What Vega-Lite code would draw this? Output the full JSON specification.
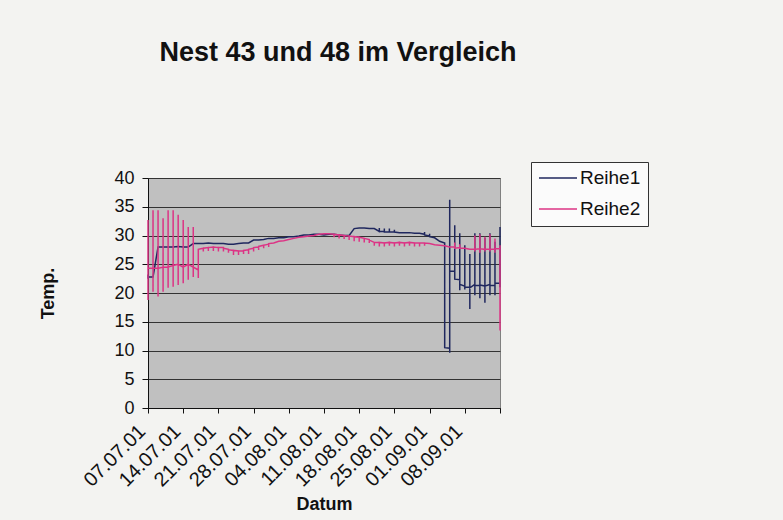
{
  "$schema": "https://vega.github.io/schema/vega-lite/v6.json",
  "width": 352,
  "height": 230,
  "autosize": {"type": "none"},
  "padding": {"left": 148, "top": 178, "right": 283, "bottom": 112},
  "background": "#f3f3f1",
  "title": {"text": "Nest 43 und 48 im Vergleich", "font": "Liberation Sans", "fontSize": 27, "fontWeight": "bold", "color": "#111111", "anchor": "middle", "dx": 14, "offset": 95},
  "data": {"values": [
    {"t":"2001-07-07","s":"Reihe1","v":22.5,"k":1},
    {"t":"2001-07-07","s":"Reihe1","v":23.2,"k":2},
    {"t":"2001-07-07","s":"Reihe1","v":22.8,"k":3},
    {"t":"2001-07-08","s":"Reihe1","v":22.8,"k":4},
    {"t":"2001-07-09","s":"Reihe1","v":28.0,"k":5},
    {"t":"2001-07-10","s":"Reihe1","v":28.0,"k":6},
    {"t":"2001-07-11","s":"Reihe1","v":28.0,"k":7},
    {"t":"2001-07-12","s":"Reihe1","v":28.0,"k":8},
    {"t":"2001-07-13","s":"Reihe1","v":28.1,"k":9},
    {"t":"2001-07-14","s":"Reihe1","v":28.0,"k":10},
    {"t":"2001-07-15","s":"Reihe1","v":28.0,"k":11},
    {"t":"2001-07-16","s":"Reihe1","v":28.6,"k":12},
    {"t":"2001-07-17","s":"Reihe1","v":28.6,"k":13},
    {"t":"2001-07-18","s":"Reihe1","v":28.6,"k":14},
    {"t":"2001-07-19","s":"Reihe1","v":28.7,"k":15},
    {"t":"2001-07-20","s":"Reihe1","v":28.6,"k":16},
    {"t":"2001-07-21","s":"Reihe1","v":28.6,"k":17},
    {"t":"2001-07-22","s":"Reihe1","v":28.6,"k":18},
    {"t":"2001-07-23","s":"Reihe1","v":28.5,"k":19},
    {"t":"2001-07-24","s":"Reihe1","v":28.5,"k":20},
    {"t":"2001-07-25","s":"Reihe1","v":28.6,"k":21},
    {"t":"2001-07-26","s":"Reihe1","v":28.7,"k":22},
    {"t":"2001-07-27","s":"Reihe1","v":28.7,"k":23},
    {"t":"2001-07-28","s":"Reihe1","v":29.2,"k":24},
    {"t":"2001-07-29","s":"Reihe1","v":29.2,"k":25},
    {"t":"2001-07-30","s":"Reihe1","v":29.3,"k":26},
    {"t":"2001-07-31","s":"Reihe1","v":29.5,"k":27},
    {"t":"2001-08-01","s":"Reihe1","v":29.5,"k":28},
    {"t":"2001-08-02","s":"Reihe1","v":29.6,"k":29},
    {"t":"2001-08-03","s":"Reihe1","v":29.6,"k":30},
    {"t":"2001-08-04","s":"Reihe1","v":29.8,"k":31},
    {"t":"2001-08-05","s":"Reihe1","v":29.8,"k":32},
    {"t":"2001-08-06","s":"Reihe1","v":29.9,"k":33},
    {"t":"2001-08-07","s":"Reihe1","v":30.1,"k":34},
    {"t":"2001-08-08","s":"Reihe1","v":30.1,"k":35},
    {"t":"2001-08-09","s":"Reihe1","v":30.2,"k":36},
    {"t":"2001-08-10","s":"Reihe1","v":30.2,"k":37},
    {"t":"2001-08-11","s":"Reihe1","v":30.1,"k":38},
    {"t":"2001-08-12","s":"Reihe1","v":30.2,"k":39},
    {"t":"2001-08-13","s":"Reihe1","v":30.2,"k":40},
    {"t":"2001-08-14","s":"Reihe1","v":30.1,"k":41},
    {"t":"2001-08-15","s":"Reihe1","v":30.0,"k":42},
    {"t":"2001-08-16","s":"Reihe1","v":30.0,"k":43},
    {"t":"2001-08-17","s":"Reihe1","v":31.2,"k":44},
    {"t":"2001-08-18","s":"Reihe1","v":31.3,"k":45},
    {"t":"2001-08-19","s":"Reihe1","v":31.3,"k":46},
    {"t":"2001-08-20","s":"Reihe1","v":31.2,"k":47},
    {"t":"2001-08-21","s":"Reihe1","v":31.2,"k":48},
    {"t":"2001-08-22","s":"Reihe1","v":30.7,"k":49},
    {"t":"2001-08-22","s":"Reihe1","v":31.3,"k":50},
    {"t":"2001-08-22","s":"Reihe1","v":30.7,"k":51},
    {"t":"2001-08-23","s":"Reihe1","v":30.7,"k":52},
    {"t":"2001-08-23","s":"Reihe1","v":31.2,"k":53},
    {"t":"2001-08-23","s":"Reihe1","v":30.6,"k":54},
    {"t":"2001-08-24","s":"Reihe1","v":30.6,"k":55},
    {"t":"2001-08-24","s":"Reihe1","v":31.2,"k":56},
    {"t":"2001-08-24","s":"Reihe1","v":30.6,"k":57},
    {"t":"2001-08-25","s":"Reihe1","v":30.6,"k":58},
    {"t":"2001-08-25","s":"Reihe1","v":31.0,"k":59},
    {"t":"2001-08-25","s":"Reihe1","v":30.6,"k":60},
    {"t":"2001-08-26","s":"Reihe1","v":30.5,"k":61},
    {"t":"2001-08-27","s":"Reihe1","v":30.5,"k":62},
    {"t":"2001-08-28","s":"Reihe1","v":30.5,"k":63},
    {"t":"2001-08-29","s":"Reihe1","v":30.4,"k":64},
    {"t":"2001-08-30","s":"Reihe1","v":30.4,"k":65},
    {"t":"2001-08-31","s":"Reihe1","v":30.2,"k":66},
    {"t":"2001-08-31","s":"Reihe1","v":30.6,"k":67},
    {"t":"2001-08-31","s":"Reihe1","v":30.1,"k":68},
    {"t":"2001-09-01","s":"Reihe1","v":29.9,"k":69},
    {"t":"2001-09-01","s":"Reihe1","v":30.3,"k":70},
    {"t":"2001-09-01","s":"Reihe1","v":29.8,"k":71},
    {"t":"2001-09-02","s":"Reihe1","v":29.6,"k":72},
    {"t":"2001-09-03","s":"Reihe1","v":29.0,"k":73},
    {"t":"2001-09-04","s":"Reihe1","v":28.7,"k":74},
    {"t":"2001-09-04","s":"Reihe1","v":10.5,"k":75},
    {"t":"2001-09-05","s":"Reihe1","v":10.4,"k":76},
    {"t":"2001-09-05","s":"Reihe1","v":9.6,"k":77},
    {"t":"2001-09-05","s":"Reihe1","v":36.2,"k":78},
    {"t":"2001-09-05","s":"Reihe1","v":23.8,"k":79},
    {"t":"2001-09-06","s":"Reihe1","v":23.8,"k":80},
    {"t":"2001-09-06","s":"Reihe1","v":31.8,"k":81},
    {"t":"2001-09-06","s":"Reihe1","v":22.6,"k":82},
    {"t":"2001-09-06","s":"Reihe1","v":22.4,"k":83},
    {"t":"2001-09-07","s":"Reihe1","v":22.3,"k":84},
    {"t":"2001-09-07","s":"Reihe1","v":30.4,"k":85},
    {"t":"2001-09-07","s":"Reihe1","v":20.5,"k":86},
    {"t":"2001-09-07","s":"Reihe1","v":21.5,"k":87},
    {"t":"2001-09-08","s":"Reihe1","v":21.2,"k":88},
    {"t":"2001-09-08","s":"Reihe1","v":28.3,"k":89},
    {"t":"2001-09-08","s":"Reihe1","v":20.6,"k":90},
    {"t":"2001-09-08","s":"Reihe1","v":21.0,"k":91},
    {"t":"2001-09-09","s":"Reihe1","v":21.0,"k":92},
    {"t":"2001-09-09","s":"Reihe1","v":17.2,"k":93},
    {"t":"2001-09-09","s":"Reihe1","v":26.8,"k":94},
    {"t":"2001-09-09","s":"Reihe1","v":20.9,"k":95},
    {"t":"2001-09-10","s":"Reihe1","v":21.5,"k":96},
    {"t":"2001-09-10","s":"Reihe1","v":30.4,"k":97},
    {"t":"2001-09-10","s":"Reihe1","v":19.6,"k":98},
    {"t":"2001-09-10","s":"Reihe1","v":21.3,"k":99},
    {"t":"2001-09-11","s":"Reihe1","v":21.3,"k":100},
    {"t":"2001-09-11","s":"Reihe1","v":30.4,"k":101},
    {"t":"2001-09-11","s":"Reihe1","v":19.1,"k":102},
    {"t":"2001-09-11","s":"Reihe1","v":21.4,"k":103},
    {"t":"2001-09-12","s":"Reihe1","v":21.2,"k":104},
    {"t":"2001-09-12","s":"Reihe1","v":29.6,"k":105},
    {"t":"2001-09-12","s":"Reihe1","v":18.3,"k":106},
    {"t":"2001-09-12","s":"Reihe1","v":21.2,"k":107},
    {"t":"2001-09-13","s":"Reihe1","v":21.5,"k":108},
    {"t":"2001-09-13","s":"Reihe1","v":30.4,"k":109},
    {"t":"2001-09-13","s":"Reihe1","v":19.6,"k":110},
    {"t":"2001-09-13","s":"Reihe1","v":21.3,"k":111},
    {"t":"2001-09-14","s":"Reihe1","v":21.3,"k":112},
    {"t":"2001-09-14","s":"Reihe1","v":28.9,"k":113},
    {"t":"2001-09-14","s":"Reihe1","v":19.6,"k":114},
    {"t":"2001-09-14","s":"Reihe1","v":21.7,"k":115},
    {"t":"2001-09-15","s":"Reihe1","v":21.7,"k":116},
    {"t":"2001-09-15","s":"Reihe1","v":31.5,"k":117},
    {"t":"2001-09-15","s":"Reihe1","v":21.0,"k":118},
    {"t":"2001-09-15","s":"Reihe1","v":21.5,"k":119},

    {"t":"2001-07-07","s":"Reihe2","v":24.3,"k":201},
    {"t":"2001-07-07","s":"Reihe2","v":32.7,"k":202},
    {"t":"2001-07-07","s":"Reihe2","v":18.8,"k":203},
    {"t":"2001-07-07","s":"Reihe2","v":24.3,"k":204},
    {"t":"2001-07-08","s":"Reihe2","v":24.3,"k":205},
    {"t":"2001-07-08","s":"Reihe2","v":34.4,"k":206},
    {"t":"2001-07-08","s":"Reihe2","v":20.2,"k":207},
    {"t":"2001-07-08","s":"Reihe2","v":24.3,"k":208},
    {"t":"2001-07-09","s":"Reihe2","v":24.3,"k":209},
    {"t":"2001-07-09","s":"Reihe2","v":34.4,"k":210},
    {"t":"2001-07-09","s":"Reihe2","v":19.4,"k":211},
    {"t":"2001-07-09","s":"Reihe2","v":24.3,"k":212},
    {"t":"2001-07-10","s":"Reihe2","v":24.5,"k":213},
    {"t":"2001-07-10","s":"Reihe2","v":33.0,"k":214},
    {"t":"2001-07-10","s":"Reihe2","v":20.2,"k":215},
    {"t":"2001-07-10","s":"Reihe2","v":24.5,"k":216},
    {"t":"2001-07-11","s":"Reihe2","v":24.5,"k":217},
    {"t":"2001-07-11","s":"Reihe2","v":34.4,"k":218},
    {"t":"2001-07-11","s":"Reihe2","v":20.9,"k":219},
    {"t":"2001-07-11","s":"Reihe2","v":24.5,"k":220},
    {"t":"2001-07-12","s":"Reihe2","v":24.8,"k":221},
    {"t":"2001-07-12","s":"Reihe2","v":34.4,"k":222},
    {"t":"2001-07-12","s":"Reihe2","v":21.1,"k":223},
    {"t":"2001-07-12","s":"Reihe2","v":24.8,"k":224},
    {"t":"2001-07-13","s":"Reihe2","v":25.0,"k":225},
    {"t":"2001-07-13","s":"Reihe2","v":33.6,"k":226},
    {"t":"2001-07-13","s":"Reihe2","v":21.4,"k":227},
    {"t":"2001-07-13","s":"Reihe2","v":25.0,"k":228},
    {"t":"2001-07-14","s":"Reihe2","v":24.5,"k":229},
    {"t":"2001-07-14","s":"Reihe2","v":32.7,"k":230},
    {"t":"2001-07-14","s":"Reihe2","v":21.7,"k":231},
    {"t":"2001-07-14","s":"Reihe2","v":24.5,"k":232},
    {"t":"2001-07-15","s":"Reihe2","v":25.0,"k":233},
    {"t":"2001-07-15","s":"Reihe2","v":31.5,"k":234},
    {"t":"2001-07-15","s":"Reihe2","v":22.3,"k":235},
    {"t":"2001-07-15","s":"Reihe2","v":25.0,"k":236},
    {"t":"2001-07-16","s":"Reihe2","v":24.5,"k":237},
    {"t":"2001-07-16","s":"Reihe2","v":31.5,"k":238},
    {"t":"2001-07-16","s":"Reihe2","v":22.8,"k":239},
    {"t":"2001-07-16","s":"Reihe2","v":24.5,"k":240},
    {"t":"2001-07-17","s":"Reihe2","v":24.0,"k":241},
    {"t":"2001-07-17","s":"Reihe2","v":22.6,"k":242},
    {"t":"2001-07-17","s":"Reihe2","v":27.6,"k":243},
    {"t":"2001-07-18","s":"Reihe2","v":27.8,"k":244},
    {"t":"2001-07-18","s":"Reihe2","v":27.2,"k":245},
    {"t":"2001-07-18","s":"Reihe2","v":27.8,"k":246},
    {"t":"2001-07-19","s":"Reihe2","v":27.9,"k":247},
    {"t":"2001-07-19","s":"Reihe2","v":27.3,"k":248},
    {"t":"2001-07-19","s":"Reihe2","v":27.9,"k":249},
    {"t":"2001-07-20","s":"Reihe2","v":28.0,"k":250},
    {"t":"2001-07-20","s":"Reihe2","v":27.3,"k":251},
    {"t":"2001-07-20","s":"Reihe2","v":28.0,"k":252},
    {"t":"2001-07-21","s":"Reihe2","v":27.9,"k":253},
    {"t":"2001-07-21","s":"Reihe2","v":27.2,"k":254},
    {"t":"2001-07-21","s":"Reihe2","v":27.9,"k":255},
    {"t":"2001-07-22","s":"Reihe2","v":27.9,"k":256},
    {"t":"2001-07-22","s":"Reihe2","v":27.2,"k":257},
    {"t":"2001-07-22","s":"Reihe2","v":27.8,"k":258},
    {"t":"2001-07-23","s":"Reihe2","v":27.6,"k":259},
    {"t":"2001-07-23","s":"Reihe2","v":27.0,"k":260},
    {"t":"2001-07-23","s":"Reihe2","v":27.5,"k":261},
    {"t":"2001-07-24","s":"Reihe2","v":27.4,"k":262},
    {"t":"2001-07-24","s":"Reihe2","v":26.6,"k":263},
    {"t":"2001-07-24","s":"Reihe2","v":27.4,"k":264},
    {"t":"2001-07-25","s":"Reihe2","v":27.3,"k":265},
    {"t":"2001-07-25","s":"Reihe2","v":26.6,"k":266},
    {"t":"2001-07-25","s":"Reihe2","v":27.3,"k":267},
    {"t":"2001-07-26","s":"Reihe2","v":27.3,"k":268},
    {"t":"2001-07-26","s":"Reihe2","v":26.8,"k":269},
    {"t":"2001-07-26","s":"Reihe2","v":27.4,"k":270},
    {"t":"2001-07-27","s":"Reihe2","v":27.5,"k":271},
    {"t":"2001-07-27","s":"Reihe2","v":26.8,"k":272},
    {"t":"2001-07-27","s":"Reihe2","v":27.6,"k":273},
    {"t":"2001-07-28","s":"Reihe2","v":27.8,"k":274},
    {"t":"2001-07-28","s":"Reihe2","v":27.2,"k":275},
    {"t":"2001-07-28","s":"Reihe2","v":27.9,"k":276},
    {"t":"2001-07-29","s":"Reihe2","v":28.0,"k":277},
    {"t":"2001-07-29","s":"Reihe2","v":27.5,"k":278},
    {"t":"2001-07-29","s":"Reihe2","v":28.1,"k":279},
    {"t":"2001-07-30","s":"Reihe2","v":28.3,"k":280},
    {"t":"2001-07-30","s":"Reihe2","v":27.8,"k":281},
    {"t":"2001-07-30","s":"Reihe2","v":28.3,"k":282},
    {"t":"2001-07-31","s":"Reihe2","v":28.5,"k":283},
    {"t":"2001-07-31","s":"Reihe2","v":28.0,"k":284},
    {"t":"2001-07-31","s":"Reihe2","v":28.6,"k":285},
    {"t":"2001-08-01","s":"Reihe2","v":28.7,"k":286},
    {"t":"2001-08-02","s":"Reihe2","v":29.0,"k":287},
    {"t":"2001-08-03","s":"Reihe2","v":29.1,"k":288},
    {"t":"2001-08-04","s":"Reihe2","v":29.3,"k":289},
    {"t":"2001-08-05","s":"Reihe2","v":29.5,"k":290},
    {"t":"2001-08-06","s":"Reihe2","v":29.7,"k":291},
    {"t":"2001-08-07","s":"Reihe2","v":29.8,"k":292},
    {"t":"2001-08-08","s":"Reihe2","v":29.9,"k":293},
    {"t":"2001-08-09","s":"Reihe2","v":30.0,"k":294},
    {"t":"2001-08-10","s":"Reihe2","v":30.2,"k":295},
    {"t":"2001-08-11","s":"Reihe2","v":30.3,"k":296},
    {"t":"2001-08-12","s":"Reihe2","v":30.3,"k":297},
    {"t":"2001-08-13","s":"Reihe2","v":30.2,"k":298},
    {"t":"2001-08-13","s":"Reihe2","v":29.7,"k":299},
    {"t":"2001-08-13","s":"Reihe2","v":30.2,"k":300},
    {"t":"2001-08-14","s":"Reihe2","v":30.1,"k":301},
    {"t":"2001-08-14","s":"Reihe2","v":29.5,"k":302},
    {"t":"2001-08-14","s":"Reihe2","v":30.1,"k":303},
    {"t":"2001-08-15","s":"Reihe2","v":30.0,"k":304},
    {"t":"2001-08-15","s":"Reihe2","v":29.4,"k":305},
    {"t":"2001-08-15","s":"Reihe2","v":30.0,"k":306},
    {"t":"2001-08-16","s":"Reihe2","v":29.9,"k":307},
    {"t":"2001-08-16","s":"Reihe2","v":29.2,"k":308},
    {"t":"2001-08-16","s":"Reihe2","v":29.9,"k":309},
    {"t":"2001-08-17","s":"Reihe2","v":29.8,"k":310},
    {"t":"2001-08-17","s":"Reihe2","v":29.0,"k":311},
    {"t":"2001-08-17","s":"Reihe2","v":29.8,"k":312},
    {"t":"2001-08-18","s":"Reihe2","v":29.7,"k":313},
    {"t":"2001-08-18","s":"Reihe2","v":28.9,"k":314},
    {"t":"2001-08-18","s":"Reihe2","v":29.7,"k":315},
    {"t":"2001-08-19","s":"Reihe2","v":29.5,"k":316},
    {"t":"2001-08-19","s":"Reihe2","v":28.8,"k":317},
    {"t":"2001-08-19","s":"Reihe2","v":29.5,"k":318},
    {"t":"2001-08-20","s":"Reihe2","v":29.3,"k":319},
    {"t":"2001-08-20","s":"Reihe2","v":28.7,"k":320},
    {"t":"2001-08-20","s":"Reihe2","v":29.2,"k":321},
    {"t":"2001-08-21","s":"Reihe2","v":28.8,"k":322},
    {"t":"2001-08-21","s":"Reihe2","v":28.2,"k":323},
    {"t":"2001-08-21","s":"Reihe2","v":28.8,"k":324},
    {"t":"2001-08-22","s":"Reihe2","v":28.8,"k":325},
    {"t":"2001-08-22","s":"Reihe2","v":28.1,"k":326},
    {"t":"2001-08-22","s":"Reihe2","v":28.8,"k":327},
    {"t":"2001-08-23","s":"Reihe2","v":28.7,"k":328},
    {"t":"2001-08-23","s":"Reihe2","v":28.1,"k":329},
    {"t":"2001-08-23","s":"Reihe2","v":28.7,"k":330},
    {"t":"2001-08-24","s":"Reihe2","v":28.8,"k":331},
    {"t":"2001-08-24","s":"Reihe2","v":28.2,"k":332},
    {"t":"2001-08-24","s":"Reihe2","v":28.8,"k":333},
    {"t":"2001-08-25","s":"Reihe2","v":28.7,"k":334},
    {"t":"2001-08-25","s":"Reihe2","v":28.1,"k":335},
    {"t":"2001-08-25","s":"Reihe2","v":28.7,"k":336},
    {"t":"2001-08-26","s":"Reihe2","v":28.8,"k":337},
    {"t":"2001-08-26","s":"Reihe2","v":28.2,"k":338},
    {"t":"2001-08-26","s":"Reihe2","v":28.8,"k":339},
    {"t":"2001-08-27","s":"Reihe2","v":28.7,"k":340},
    {"t":"2001-08-27","s":"Reihe2","v":28.1,"k":341},
    {"t":"2001-08-27","s":"Reihe2","v":28.7,"k":342},
    {"t":"2001-08-28","s":"Reihe2","v":28.8,"k":343},
    {"t":"2001-08-28","s":"Reihe2","v":28.2,"k":344},
    {"t":"2001-08-28","s":"Reihe2","v":28.8,"k":345},
    {"t":"2001-08-29","s":"Reihe2","v":28.7,"k":346},
    {"t":"2001-08-29","s":"Reihe2","v":28.1,"k":347},
    {"t":"2001-08-29","s":"Reihe2","v":28.7,"k":348},
    {"t":"2001-08-30","s":"Reihe2","v":28.7,"k":349},
    {"t":"2001-08-30","s":"Reihe2","v":28.1,"k":350},
    {"t":"2001-08-30","s":"Reihe2","v":28.7,"k":351},
    {"t":"2001-08-31","s":"Reihe2","v":28.7,"k":352},
    {"t":"2001-08-31","s":"Reihe2","v":28.2,"k":353},
    {"t":"2001-08-31","s":"Reihe2","v":28.7,"k":354},
    {"t":"2001-09-01","s":"Reihe2","v":28.6,"k":355},
    {"t":"2001-09-02","s":"Reihe2","v":28.4,"k":356},
    {"t":"2001-09-03","s":"Reihe2","v":28.3,"k":357},
    {"t":"2001-09-04","s":"Reihe2","v":28.2,"k":358},
    {"t":"2001-09-05","s":"Reihe2","v":28.0,"k":359},
    {"t":"2001-09-06","s":"Reihe2","v":28.0,"k":360},
    {"t":"2001-09-06","s":"Reihe2","v":28.8,"k":361},
    {"t":"2001-09-06","s":"Reihe2","v":27.8,"k":362},
    {"t":"2001-09-07","s":"Reihe2","v":27.9,"k":363},
    {"t":"2001-09-07","s":"Reihe2","v":28.5,"k":364},
    {"t":"2001-09-07","s":"Reihe2","v":27.8,"k":365},
    {"t":"2001-09-08","s":"Reihe2","v":27.8,"k":366},
    {"t":"2001-09-09","s":"Reihe2","v":27.6,"k":367},
    {"t":"2001-09-10","s":"Reihe2","v":27.6,"k":368},
    {"t":"2001-09-10","s":"Reihe2","v":30.0,"k":369},
    {"t":"2001-09-10","s":"Reihe2","v":27.2,"k":370},
    {"t":"2001-09-10","s":"Reihe2","v":27.6,"k":371},
    {"t":"2001-09-11","s":"Reihe2","v":27.7,"k":372},
    {"t":"2001-09-11","s":"Reihe2","v":30.2,"k":373},
    {"t":"2001-09-11","s":"Reihe2","v":27.0,"k":374},
    {"t":"2001-09-11","s":"Reihe2","v":27.7,"k":375},
    {"t":"2001-09-12","s":"Reihe2","v":27.6,"k":376},
    {"t":"2001-09-12","s":"Reihe2","v":29.8,"k":377},
    {"t":"2001-09-12","s":"Reihe2","v":27.2,"k":378},
    {"t":"2001-09-12","s":"Reihe2","v":27.6,"k":379},
    {"t":"2001-09-13","s":"Reihe2","v":27.6,"k":380},
    {"t":"2001-09-13","s":"Reihe2","v":30.2,"k":381},
    {"t":"2001-09-13","s":"Reihe2","v":27.2,"k":382},
    {"t":"2001-09-13","s":"Reihe2","v":27.6,"k":383},
    {"t":"2001-09-14","s":"Reihe2","v":27.6,"k":384},
    {"t":"2001-09-14","s":"Reihe2","v":29.5,"k":385},
    {"t":"2001-09-14","s":"Reihe2","v":27.0,"k":386},
    {"t":"2001-09-14","s":"Reihe2","v":27.7,"k":387},
    {"t":"2001-09-15","s":"Reihe2","v":27.7,"k":388},
    {"t":"2001-09-15","s":"Reihe2","v":28.3,"k":389},
    {"t":"2001-09-15","s":"Reihe2","v":13.5,"k":390}
  ]},
  "mark": {"type": "line", "strokeWidth": 1.5, "interpolate": "linear"},
  "encoding": {
    "x": {
      "field": "t", "type": "temporal",
      "scale": {"type": "utc", "domain": [{"year": 2001, "month": 7, "date": 7, "utc": true}, {"year": 2001, "month": 9, "date": 15, "utc": true}]},
      "axis": {
        "title": "Datum",
        "values": [
          {"year": 2001, "month": 7, "date": 7, "utc": true},
          {"year": 2001, "month": 7, "date": 14, "utc": true},
          {"year": 2001, "month": 7, "date": 21, "utc": true},
          {"year": 2001, "month": 7, "date": 28, "utc": true},
          {"year": 2001, "month": 8, "date": 4, "utc": true},
          {"year": 2001, "month": 8, "date": 11, "utc": true},
          {"year": 2001, "month": 8, "date": 18, "utc": true},
          {"year": 2001, "month": 8, "date": 25, "utc": true},
          {"year": 2001, "month": 9, "date": 1, "utc": true},
          {"year": 2001, "month": 9, "date": 8, "utc": true},
          {"year": 2001, "month": 9, "date": 15, "utc": true}
        ],
        "format": "%d.%m.%y",
        "labelExpr": "utcdate(datum.value) == 15 ? '' : datum.label",
        "labelAngle": -45,
        "labelAlign": "right",
        "labelBaseline": "middle",
        "labelFont": "Liberation Sans",
        "labelFontSize": 20,
        "labelColor": "#111111",
        "labelPadding": 15,
        "labelOffset": -6,
        "labelOverlap": false,
        "labelFlush": false,
        "tickSize": 5,
        "tickColor": "#111111",
        "domainColor": "#111111",
        "grid": false,
        "titleFont": "Liberation Sans",
        "titleFontSize": 18,
        "titleFontWeight": "bold",
        "titleColor": "#111111",
        "titlePadding": 5
      }
    },
    "y": {
      "field": "v", "type": "quantitative",
      "scale": {"domain": [0, 40], "nice": false, "zero": true},
      "axis": {
        "title": "Temp.",
        "values": [0, 5, 10, 15, 20, 25, 30, 35, 40],
        "labelFont": "Liberation Sans",
        "labelFontSize": 18,
        "labelColor": "#111111",
        "labelPadding": 8,
        "tickSize": 6,
        "tickColor": "#111111",
        "domainColor": "#111111",
        "grid": true,
        "gridColor": "#333333",
        "gridWidth": 1,
        "titleFont": "Liberation Sans",
        "titleFontSize": 18,
        "titleFontWeight": "bold",
        "titleColor": "#111111",
        "titlePadding": 56
      }
    },
    "color": {
      "field": "s", "type": "nominal",
      "scale": {"domain": ["Reihe1", "Reihe2"], "range": ["#1f275e", "#dc3485"]},
      "legend": {
        "title": null,
        "orient": "none",
        "legendX": 383,
        "legendY": -16,
        "fillColor": "#fbfbfb",
        "strokeColor": "#333333",
        "padding": 7,
        "symbolType": "stroke",
        "symbolSize": 1444,
        "symbolStrokeWidth": 1.5,
        "clipHeight": 18,
        "rowPadding": 12,
        "labelFont": "Liberation Sans",
        "labelFontSize": 19,
        "labelColor": "#111111",
        "labelOffset": 2
      }
    },
    "order": {"field": "k", "type": "quantitative"}
  },
  "config": {"view": {"fill": "#c0c0c0", "stroke": "#808080"}}
}
